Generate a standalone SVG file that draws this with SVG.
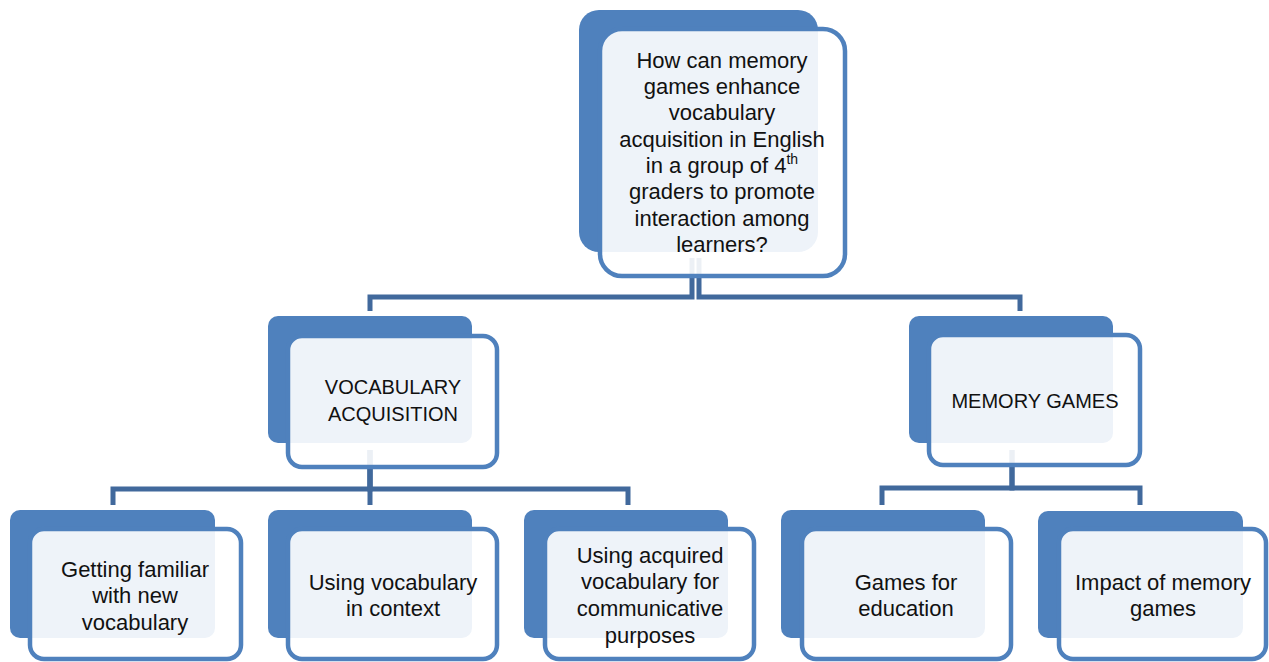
<svg xmlns="http://www.w3.org/2000/svg" width="1269" height="662" viewBox="0 0 1269 662">
<style>
.back{fill:#4F81BD}
.front{fill:#FFFFFF;fill-opacity:0.9;stroke:#4F81BD;stroke-width:4.5}
.conn{fill:none;stroke:#41699C;stroke-width:5}
text{font-family:"Liberation Sans",Arial,sans-serif;font-size:22px;fill:#111;text-anchor:middle}
.caps{font-size:20px}
</style>
<rect width="1269" height="662" fill="#FFFFFF"/>
<g id="connectors">
<path class="conn" d="M692 258 V297 H370 V311"/>
<path class="conn" d="M699 258 V297 H1020 V311"/>
<path class="conn" d="M370 450 V489 H113 V505"/>
<path class="conn" d="M370 450 V505"/>
<path class="conn" d="M370 450 V489 H628 V505"/>
<path class="conn" d="M1012 450 V488 H882 V505"/>
<path class="conn" d="M1012 450 V488 H1140 V505"/>
</g>
<g id="node-root">
<rect class="back" x="579" y="10" width="239" height="242" rx="20"/>
<rect class="front" x="600" y="29" width="245" height="247" rx="22"/>
<text x="722" y="68">How can memory</text>
<text x="722" y="94">games enhance</text>
<text x="722" y="120">vocabulary</text>
<text x="722" y="147">acquisition in English</text>
<text x="722" y="173">in a group of 4<tspan font-size="14" dy="-9">th</tspan></text>
<text x="722" y="199">graders to promote</text>
<text x="722" y="226">interaction among</text>
<text x="722" y="252">learners?</text>
</g>
<g id="node-vocab">
<rect class="back" x="268" y="316" width="204" height="127" rx="10"/>
<rect class="front" x="288" y="336" width="209" height="131" rx="14"/>
<text class="caps" x="393" y="394">VOCABULARY</text>
<text class="caps" x="393" y="421">ACQUISITION</text>
</g>
<g id="node-memory">
<rect class="back" x="909" y="316" width="204" height="127" rx="10"/>
<rect class="front" x="929" y="335" width="211" height="130" rx="14"/>
<text class="caps" x="1035" y="408">MEMORY GAMES</text>
</g>
<g id="node-familiar">
<rect class="back" x="10" y="510" width="205" height="128" rx="10"/>
<rect class="front" x="30" y="529" width="211" height="130" rx="14"/>
<text x="135" y="577">Getting familiar</text>
<text x="135" y="603">with new</text>
<text x="135" y="630">vocabulary</text>
</g>
<g id="node-context">
<rect class="back" x="268" y="510" width="204" height="128" rx="10"/>
<rect class="front" x="288" y="529" width="209" height="130" rx="14"/>
<text x="393" y="590">Using vocabulary</text>
<text x="393" y="616">in context</text>
</g>
<g id="node-communicative">
<rect class="back" x="524" y="510" width="204" height="128" rx="10"/>
<rect class="front" x="545" y="529" width="209" height="130" rx="14"/>
<text x="650" y="563">Using acquired</text>
<text x="650" y="589">vocabulary for</text>
<text x="650" y="616">communicative</text>
<text x="650" y="643">purposes</text>
</g>
<g id="node-education">
<rect class="back" x="781" y="510" width="204" height="128" rx="10"/>
<rect class="front" x="802" y="529" width="209" height="130" rx="14"/>
<text x="906" y="590">Games for</text>
<text x="906" y="616">education</text>
</g>
<g id="node-impact">
<rect class="back" x="1038" y="511" width="205" height="127" rx="10"/>
<rect class="front" x="1059" y="529" width="207" height="130" rx="14"/>
<text x="1163" y="590">Impact of memory</text>
<text x="1163" y="616">games</text>
</g>
</svg>
